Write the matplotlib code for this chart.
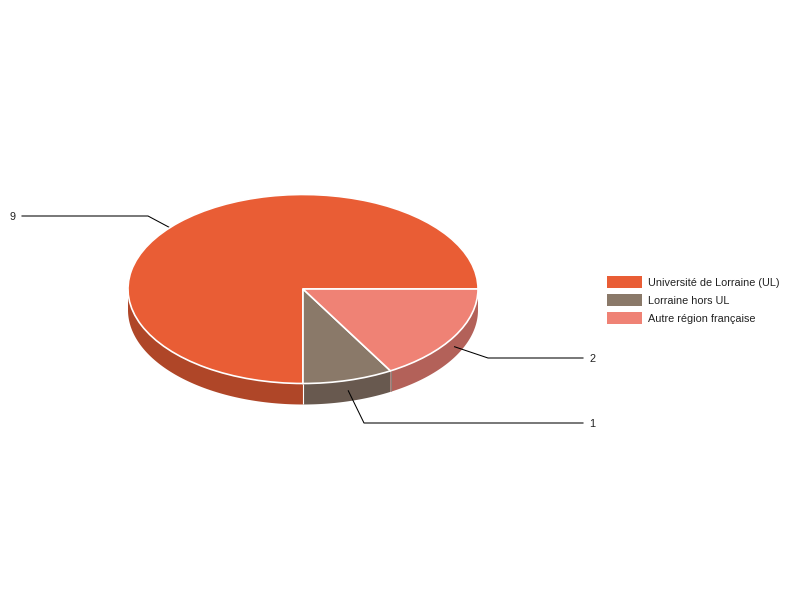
import numpy as np
import matplotlib
matplotlib.use('Agg')
import matplotlib.pyplot as plt
from matplotlib.patches import Wedge, Polygon, Rectangle
from matplotlib.transforms import Affine2D

categories = ['Université de Lorraine (UL)', 'Lorraine hors UL', 'Autre région française']
values = [9, 1, 2]
top_colors = ['#E95D35', '#8A7969', '#EF8275']
side_colors = ['#AF4628', '#68594F', '#B36159']

# pie geometry in pixels, y measured from the bottom of the image
CX, CY = 303, 311
RX, RY = 175, 94.5
DEPTH = 21

plt.rcParams['font.family'] = ['Liberation Sans', 'DejaVu Sans']

fig = plt.figure(figsize=(8, 6), dpi=100)
ax = fig.add_axes([0, 0, 1, 1])
ax.set_xlim(0, 800)
ax.set_ylim(0, 600)
ax.axis('off')


def rim(a, b, drop=0):
    t = np.radians(np.linspace(a, b, 80))
    return np.column_stack([CX + RX * np.cos(t), CY + RY * np.sin(t) - drop])


sweep = 360 * np.array(values) / sum(values)
ends = np.cumsum(sweep)
starts = ends - sweep
mids = (starts + ends) / 2

# side wall, only the front half of the disc shows
for a, b, c in zip(starts, ends, side_colors):
    lo, hi = max(a, 180), min(b, 360)
    if lo >= hi:
        continue
    pts = np.vstack([rim(lo, hi), rim(hi, lo, DEPTH)])
    ax.add_patch(Polygon(pts, closed=True, facecolor=c, edgecolor='none', zorder=2))

# seams between the wall pieces
for a in starts[1:]:
    p = rim(a, a)[0]
    col = 'white' if a == 270 else '#8f8078'
    ax.plot([p[0], p[0]], [p[1], p[1] - DEPTH + 1], color=col, lw=0.8, zorder=3,
            solid_capstyle='butt')

# leader lines start on the wall, the one for 9 disappears behind the top
elbows = [(148, 384), (364, 177), (488, 242)]
line_ends = [22, 583, 583]
label_x = [10, 589.5, 589.5]
for m, v, (ex, ey), lx, tx in zip(mids, values, elbows, line_ends, label_x):
    ax_x = CX + RX * np.cos(np.radians(m))
    ax_y = CY + RY * np.sin(np.radians(m)) - DEPTH / 2
    ax.plot([ax_x, ex, lx], [ax_y, ey, ey], color='black', lw=0.75, zorder=3.5,
            solid_joinstyle='miter')
    ax.text(tx, ey - 1, str(v), ha='left', va='center', color='#222222', fontsize=7.85)

squash = Affine2D().scale(1, RY / RX).translate(CX, CY) + ax.transData
for a, b, c in zip(starts, ends, top_colors):
    ax.add_patch(Wedge((0, 0), RX, a, b, facecolor=c, edgecolor='white', lw=1.2,
                       transform=squash, zorder=4))

# legend
legend_y = [318, 300, 282]
for name, c, y in zip(categories, top_colors, legend_y):
    ax.add_patch(Rectangle((607, y - 6), 35, 12, facecolor=c, edgecolor='none'))
    ax.text(648, y - 1, name, ha='left', va='center', color='#222222', fontsize=7.85)

fig.savefig('out.png', dpi=100)
